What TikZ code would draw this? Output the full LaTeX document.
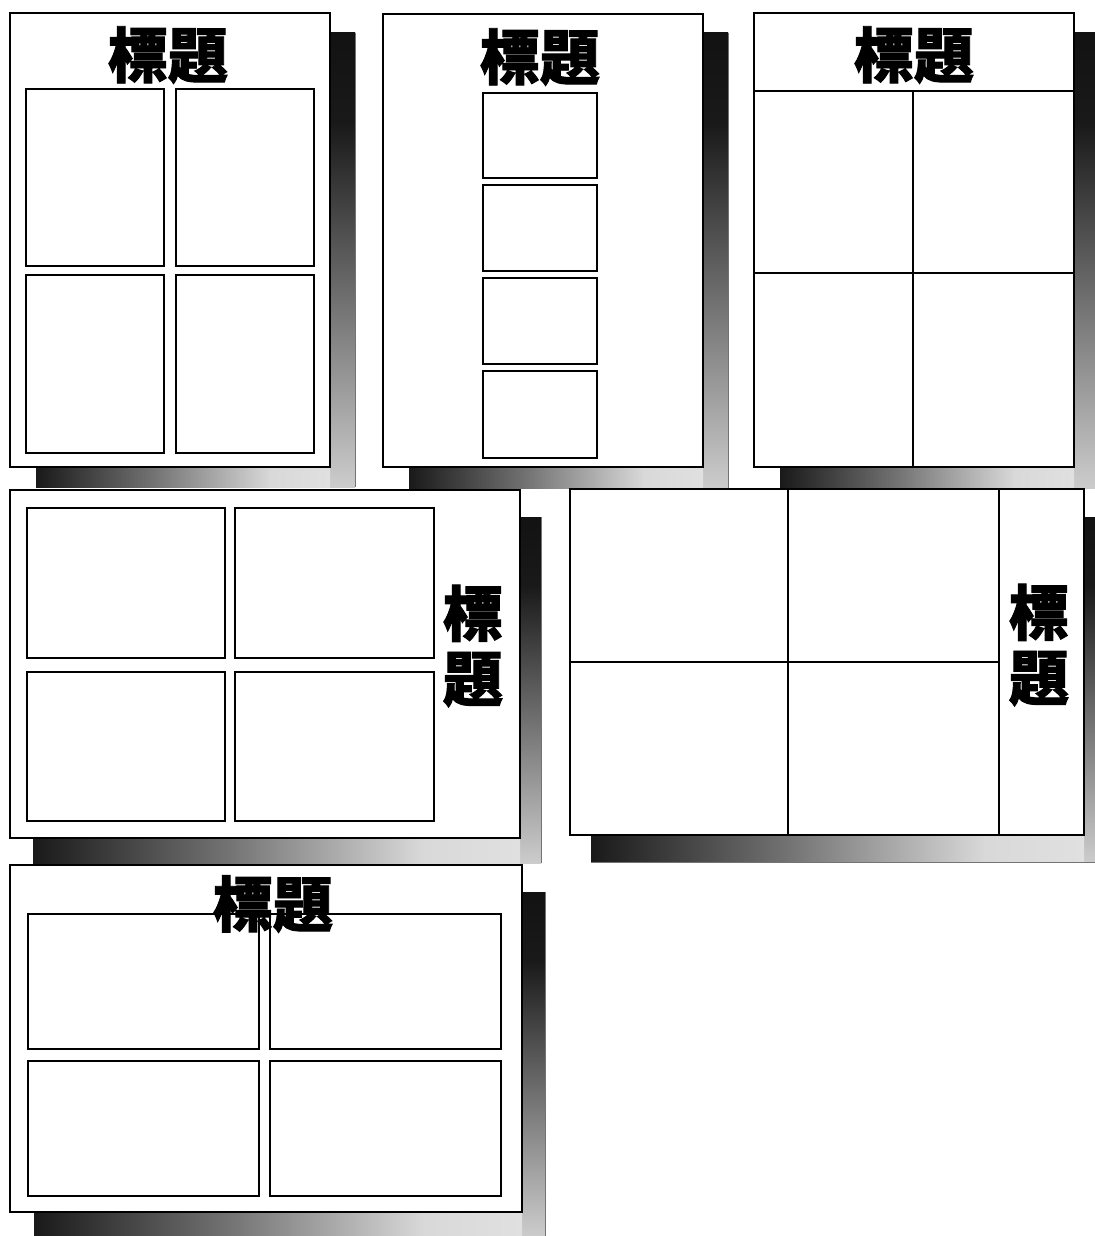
\documentclass[tikz,border=0pt]{standalone}
\usepackage{fontspec}
\newfontfamily\cjk[BoldFeatures={FakeBold=1.6}]{Noto Sans CJK TC}
\pgfdeclareverticalshading{shdv}{100bp}{color(0bp)=(black!6); color(25bp)=(black!20); color(45bp)=(black!55); color(65bp)=(black!90); color(100bp)=(black)}
\pgfdeclarehorizontalshading{shdh}{100bp}{color(0bp)=(black); color(25bp)=(black!90); color(45bp)=(black!55); color(65bp)=(black!15); color(100bp)=(black!5)}
\begin{document}
\begin{tikzpicture}[x=0.5pt,y=-0.5pt,
  frame/.style={draw=black, fill=white, line width=0.9pt},
  cell/.style={draw=black, line width=0.9pt},
  divider/.style={draw=black, line width=0.8pt},
  titletext/.style={font=\cjk\bfseries\fontsize{30}{32.5}\selectfont, inner sep=0pt, align=center},
  shadowv/.style={shading=shdv},
  shadowh/.style={shading=shdh},
  shadowedge/.style={draw=black!55, line width=0.5pt}]
\useasboundingbox (0,0) rectangle (1095,1236);
\fill[white] (0,0) rectangle (1095,1236);

% ---------- shadows ----------
% panel 1
\path[shadowv] (330,33) rectangle (355,487);
\path[shadowh] (36,467) rectangle (330,487);
\draw[shadowedge] (355,33) -- (355,487);
% panel 2
\path[shadowv] (703,33) rectangle (728,488);
\path[shadowh] (409,467) rectangle (703,488);
\draw[shadowedge] (728,33) -- (728,488);
% panel 3
\path[shadowv] (1074,33) rectangle (1097,488);
\path[shadowh] (780,467) rectangle (1074,488);
% panel 4
\path[shadowv] (520,517) rectangle (541,863);
\path[shadowh] (33,838) rectangle (520,863);
\draw[shadowedge] (541,517) -- (541,863);
% panel 5
\path[shadowv] (1084,517) rectangle (1097,862);
\path[shadowh] (591,835) rectangle (1084,862);
\draw[shadowedge] (591,862) -- (1095,862);
% panel 6
\path[shadowv] (522,892) rectangle (545,1236);
\path[shadowh] (34,1212) rectangle (522,1236);
\draw[shadowedge] (545,892) -- (545,1236);

% ---------- panel 1 ----------
\draw[frame] (10,13) rectangle (330,467);
\draw[cell] (26,89) rectangle (164,266);
\draw[cell] (176,89) rectangle (314,266);
\draw[cell] (26,275) rectangle (164,453);
\draw[cell] (176,275) rectangle (314,453);
\node[titletext] (t1) at (168,55) {標題};

% ---------- panel 2 ----------
\draw[frame] (383,14) rectangle (703,467);
\draw[cell] (483,93) rectangle (597,178);
\draw[cell] (483,185) rectangle (597,271);
\draw[cell] (483,278) rectangle (597,364);
\draw[cell] (483,371) rectangle (597,458);
\node[titletext] (t2) at (540,57) {標題};

% ---------- panel 3 ----------
\draw[frame] (754,13) rectangle (1074,467);
\draw[divider] (754,91) -- (1074,91);
\draw[divider] (913,91) -- (913,467);
\draw[divider] (754,273) -- (1074,273);
\node[titletext] (t3) at (914,55) {標題};

% ---------- panel 4 ----------
\draw[frame] (10,490) rectangle (520,838);
\draw[cell] (27,508) rectangle (225,658);
\draw[cell] (235,508) rectangle (434,658);
\draw[cell] (27,672) rectangle (225,821);
\draw[cell] (235,672) rectangle (434,821);
\node[titletext] (t4) at (473,646) {標\\題};

% ---------- panel 5 ----------
\draw[frame] (570,489) rectangle (1084,835);
\draw[divider] (788,489) -- (788,835);
\draw[divider] (999,489) -- (999,835);
\draw[divider] (570,662) -- (999,662);
\node[titletext] (t5) at (1039,645) {標\\題};

% ---------- panel 6 ----------
\draw[frame] (10,865) rectangle (522,1212);
\draw[cell] (28,914) rectangle (259,1049);
\draw[cell] (270,914) rectangle (501,1049);
\draw[cell] (28,1061) rectangle (259,1196);
\draw[cell] (270,1061) rectangle (501,1196);
\node[titletext] (t6) at (273,904) {標題};
\end{tikzpicture}
\end{document}
